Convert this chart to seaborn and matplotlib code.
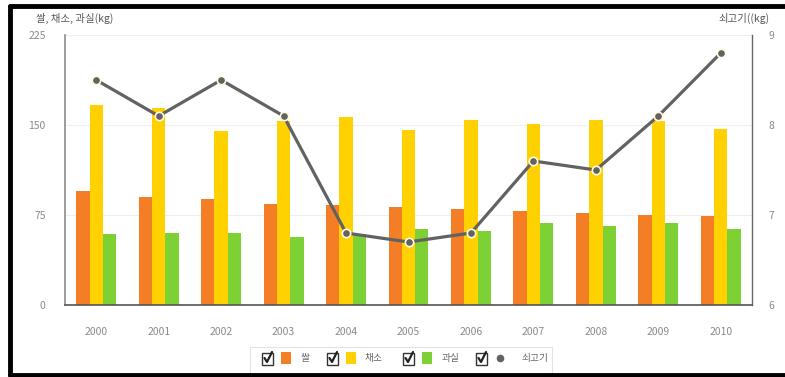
import matplotlib
matplotlib.use("Agg")
import matplotlib.pyplot as plt
import seaborn as sns
import pandas as pd
from matplotlib.patches import Rectangle
from matplotlib.lines import Line2D

years = ["2000", "2001", "2002", "2003", "2004", "2005", "2006", "2007", "2008", "2009", "2010"]
rice = [95, 90, 88, 84, 83, 82, 80, 78, 77, 75, 74]
veg = [167, 164, 145, 153, 157, 146, 154, 151, 154, 153, 147]
fruit = [59, 60, 60, 57, 59, 63, 62, 68, 66, 68, 63]
beef = [8.5, 8.1, 8.5, 8.1, 6.8, 6.7, 6.8, 7.6, 7.5, 8.1, 8.8]
series_names = ["쌀", "채소", "과실"]
beef_name = "쇠고기"
left_ticks = [0, 75, 150, 225]
right_ticks = [6, 7, 8, 9]
left_title = "쌀, 채소, 과실(kg)"
right_title = "쇠고기((kg)"

colors = ["#F47E25", "#FFD100", "#7DD135"]
line_color = "#626262"

sns.set_theme(style="white")
plt.rcParams["font.family"] = ["Noto Sans CJK KR", "DejaVu Sans"]

df = pd.DataFrame({
    "year": years * 3,
    "value": rice + veg + fruit,
    "kind": [series_names[0]] * len(years) + [series_names[1]] * len(years) + [series_names[2]] * len(years),
})

fig = plt.figure(figsize=(7.85, 3.77), dpi=100)
ax = fig.add_axes([65 / 785, 72 / 377, 687 / 785, 270 / 377])

sns.barplot(data=df, x="year", y="value", hue="kind", palette=colors, width=0.64,
            saturation=1, ax=ax, legend=False, zorder=2, edgecolor="none", linewidth=0)
ax.set_ylim(0, 225)
ax.set_xlim(-0.5, len(years) - 0.5)
ax.set_yticks(left_ticks)
ax.set_xlabel("")
ax.set_ylabel("")
ax.grid(axis="y", color="#efefef", linewidth=0.8, zorder=0)
ax.set_axisbelow(True)
ax.tick_params(axis="both", length=0, labelsize=7.5, labelcolor="#8a8a8a")
ax.tick_params(axis="y", pad=14)
ax.tick_params(axis="x", pad=16)
ax.spines["top"].set_visible(False)
ax.spines["left"].set_color("#8c8c8c")
ax.spines["left"].set_linewidth(1.2)
ax.spines["bottom"].set_color("#555555")
ax.spines["bottom"].set_linewidth(1.2)
ax.spines["right"].set_color("#666666")
ax.spines["right"].set_linewidth(1.0)

ax2 = ax.twinx()
sns.pointplot(x=years, y=beef, ax=ax2, color=line_color, markers="o",
              linewidth=2.3, markersize=6, markeredgecolor="#fffbe0",
              markeredgewidth=1.2, errorbar=None)
ax2.set_ylim(6, 9)
ax2.set_xlim(-0.5, len(years) - 0.5)
ax2.set_yticks(right_ticks)
ax2.tick_params(axis="y", length=0, labelsize=7.5, labelcolor="#8a8a8a", pad=12)
for s in ["top", "left", "bottom", "right"]:
    ax2.spines[s].set_visible(False)
ax2.grid(False)

fig.text(36 / 785, 1 - 18 / 377, left_title, fontsize=7.5, color="#555555", va="center", ha="left")
fig.text(770 / 785, 1 - 18 / 377, right_title, fontsize=7.5, color="#555555", va="center", ha="right")


def fx(px):
    return px / 785


def fy(py):
    return 1 - py / 377


# legend box
fig.add_artist(Line2D([fx(250), fx(552)], [fy(347), fy(347)], color="#e2e2e2", lw=0.8))
fig.add_artist(Line2D([fx(250), fx(250)], [fy(347), fy(373)], color="#e2e2e2", lw=0.8))
fig.add_artist(Line2D([fx(552), fx(552)], [fy(347), fy(373)], color="#e2e2e2", lw=0.8))

items = [(262, 281, 301, colors[0], series_names[0], "sq"),
         (327, 346, 365, colors[1], series_names[1], "sq"),
         (403, 422, 442, colors[2], series_names[2], "sq"),
         (476, 496, 521, line_color, beef_name, "dot")]
for cb, sw, tx, col, lab, kind in items:
    fig.add_artist(Rectangle((fx(cb), fy(365)), 11 / 785, 12 / 377, facecolor="white",
                             edgecolor="#333333", lw=1.0))
    fig.add_artist(Line2D([fx(cb + 2.5), fx(cb + 5), fx(cb + 10)],
                          [fy(358), fy(362), fy(352)], color="#222222", lw=1.6))
    if kind == "sq":
        fig.add_artist(Rectangle((fx(sw), fy(364)), 10 / 785, 12 / 377, facecolor=col,
                                 edgecolor="none"))
    else:
        fig.add_artist(Line2D([fx(sw + 4)], [fy(358)], marker="o", color=col,
                              markersize=4.5, linestyle="none"))
    fig.text(fx(tx), fy(358), lab, fontsize=7, color="#666666", va="center", ha="left")

# outer black frame
fig.add_artist(Line2D([fx(10), fx(10)], [fy(6), fy(375)], color="black", lw=3.5))
fig.add_artist(Line2D([fx(10), fx(785)], [fy(6), fy(6)], color="black", lw=3.5))
fig.add_artist(Line2D([fx(10), fx(785)], [fy(375), fy(375)], color="black", lw=3.5))

fig.savefig("out.png", dpi=100)
